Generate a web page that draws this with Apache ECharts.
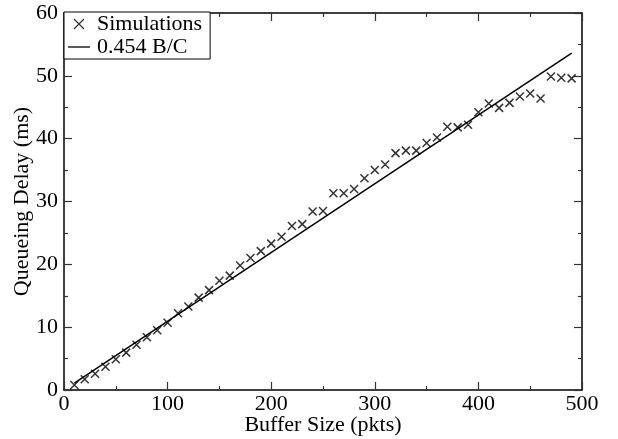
<!DOCTYPE html>
<html>
<head>
<meta charset="utf-8">
<script src="https://cdn.jsdelivr.net/npm/echarts@6/dist/echarts.min.js"></script>
<style>html,body{margin:0;padding:0;background:#fff}#c{width:618px;height:439px}</style>
</head>
<body>
<div id="c"></div>
<script>
const bufferSizes = [10,20,30,40,50,60,70,80,90,100,110,120,130,140,150,160,170,180,190,200,210,220,230,240,250,260,270,280,290,300,310,320,330,340,350,360,370,380,390,400,410,420,430,440,450,460,470,480,490];
const simDelay = [0.8,1.7,2.6,3.7,4.9,5.95,7.2,8.4,9.5,10.7,12.2,13.3,14.7,15.9,17.4,18.2,19.8,21.0,22.1,23.3,24.4,26.1,26.4,28.4,28.5,31.3,31.3,32.0,33.7,35.0,35.9,37.7,38.1,38.1,39.3,40.2,41.9,41.8,42.2,44.2,45.6,44.9,45.7,46.7,47.2,46.4,49.9,49.7,49.6];
const fitX = [10, 490];
const fitY = [1.1, 53.6];
const xTicks = [0,100,200,300,400,500];
const yTicks = [0,10,20,30,40,50,60];

const simData = bufferSizes.map((b,i)=>[b, simDelay[i]]);
const fitData = fitX.map((b,i)=>[b, fitY[i]]);
const font = 'Liberation Serif';
const fs = 22;
const axisCommon = {
  type:'value',
  axisLine:{show:true, onZero:false, lineStyle:{color:'#000', width:1.5}},
  axisTick:{show:true, inside:true, length:8, lineStyle:{color:'#333', width:1.2}},
  minorTick:{show:true, splitNumber:2, length:4, lineStyle:{color:'#333', width:1.2}},
  splitLine:{show:false},
  minorSplitLine:{show:false}
};
const chart = echarts.init(document.getElementById('c'));
chart.setOption({
  animation:false,
  backgroundColor:'#fff',
  grid:{left:64, right:36, top:13, bottom:49, containLabel:false, outerBoundsMode:'none'},
  legend:{
    orient:'vertical', left:64, top:12, itemGap:1, itemWidth:22, itemHeight:10,
    padding:[1,8,1,4],
    backgroundColor:'#fff', borderColor:'#000', borderWidth:1, borderRadius:0,
    textStyle:{fontFamily:font, fontSize:fs, color:'#000', padding:[0,0,0,2]},
    data:[
      {name:'Simulations', icon:'path://M0,0L10,10M10,0L0,10', itemStyle:{color:'none', borderColor:'#000', borderWidth:1.3}},
      {name:'0.454 B/C', icon:'path://M0,0H22V1.3H0Z', itemStyle:{color:'#000'}}
    ]
  },
  xAxis:[
    Object.assign({}, axisCommon, {min:0, max:500, interval:100, position:'bottom',
      name:'Buffer Size (pkts)', nameLocation:'middle', nameGap:24, nameMoveOverlap:false,
      nameTextStyle:{fontFamily:font, fontSize:fs, color:'#000'},
      axisLabel:{fontFamily:font, fontSize:fs, color:'#000', margin:3,
        formatter:v=>xTicks.includes(v)?String(v):''}}),
    Object.assign({}, axisCommon, {min:0, max:500, interval:100, position:'top',
      axisLabel:{show:false}})
  ],
  yAxis:[
    Object.assign({}, axisCommon, {min:0, max:60, interval:10, position:'left',
      name:'Queueing Delay (ms)', nameLocation:'middle', nameGap:31, nameMoveOverlap:false,
      nameTextStyle:{fontFamily:font, fontSize:fs, color:'#000'},
      axisLabel:{fontFamily:font, fontSize:fs, color:'#000', margin:6,
        formatter:v=>yTicks.includes(v)?String(v):''}}),
    Object.assign({}, axisCommon, {min:0, max:60, interval:10, position:'right',
      axisLabel:{show:false}})
  ],
  series:[
    {name:'Simulations', type:'scatter', data:simData,
      symbol:'path://M0,0L10,10M10,0L0,10', symbolSize:8,
      itemStyle:{color:'none', borderColor:'#000', borderWidth:1.5}},
    {name:'0.454 B/C', type:'line', data:fitData, symbol:'none',
      lineStyle:{color:'#000', width:1.5}, itemStyle:{color:'#000'}}
  ]
});
</script>
</body>
</html>
